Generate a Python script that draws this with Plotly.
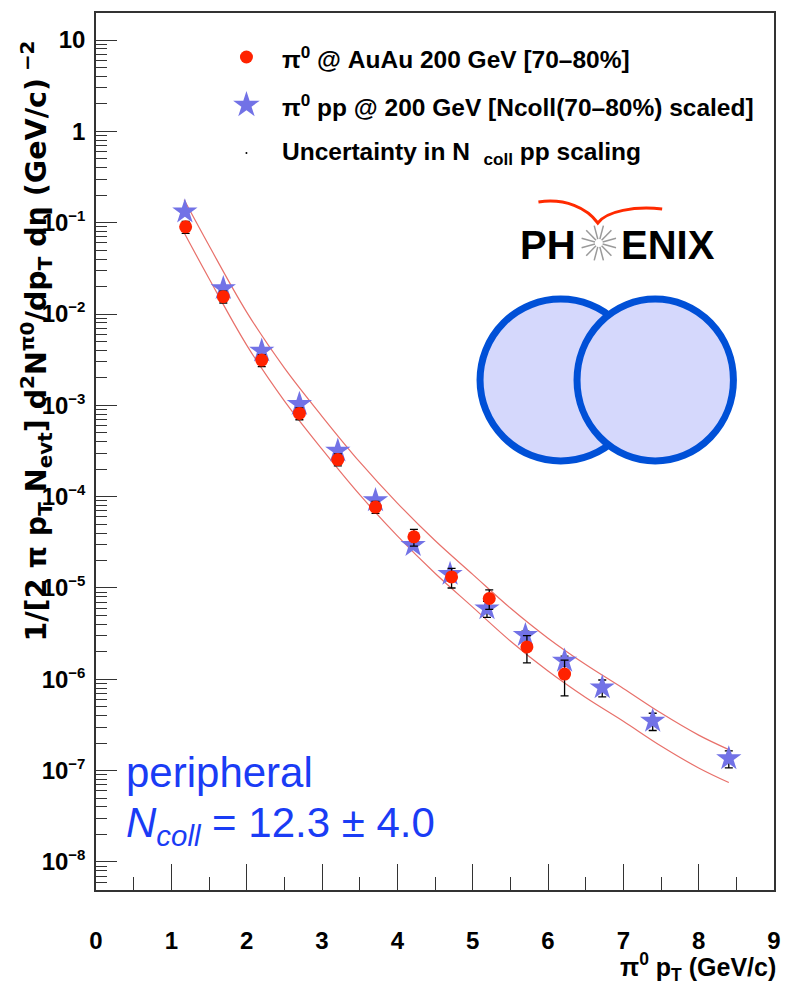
import math
import plotly.graph_objects as go

# ---------------- data ----------------
pt_auau = [1.19, 1.69, 2.20, 2.70, 3.21, 3.71, 4.22, 4.72, 5.22, 5.72, 6.22]
y_auau = [9.0e-2, 1.55e-2, 3.13e-3, 8.15e-4, 2.55e-4, 7.7e-5, 3.63e-5, 1.32e-5, 7.67e-6, 2.26e-6, 1.14e-6]
err_auau = [1.35e-2, 2.3e-3, 4.7e-4, 1.2e-4, 3.8e-5, 1.15e-5, 7.6e-6, 3.2e-6, 1.85e-6, 7.5e-7, 4.8e-7]

pt_pp = [1.18, 1.69, 2.20, 2.70, 3.21, 3.71, 4.21, 4.70, 5.19, 5.70, 6.22, 6.72, 7.39, 8.40]
y_pp = [1.32e-1, 1.91e-2, 3.95e-3, 1.03e-3, 3.18e-4, 9.1e-5, 2.94e-5, 1.42e-5, 5.96e-6,
        3.04e-6, 1.59e-6, 8.13e-7, 3.50e-7, 1.36e-7]
err_pp = [6.6e-3, 9.5e-4, 2.0e-4, 5.2e-5, 1.6e-5, 4.6e-6, 1.8e-6, 1.0e-6, 1.2e-6,
          3.3e-7, 2.0e-7, 1.7e-7, 7.5e-8, 2.9e-8]

pt_band = [1.17, 1.5, 2.0, 2.5, 3.0, 3.5, 4.0, 4.5, 5.0, 5.5, 6.0, 6.5, 7.0, 7.5, 8.0, 8.4]
band_upper = [0.178, 0.0562, 1.05e-2, 2.57e-3, 7.59e-4, 2.40e-4, 8.51e-5, 3.31e-5, 1.41e-5,
              6.03e-6, 2.82e-6, 1.45e-6, 7.94e-7, 4.27e-7, 2.45e-7, 1.70e-7]
band_lower = [0.0776, 0.0245, 4.57e-3, 1.12e-3, 3.31e-4, 1.05e-4, 3.72e-5, 1.45e-5, 6.17e-6,
              2.63e-6, 1.23e-6, 6.31e-7, 3.47e-7, 1.86e-7, 1.07e-7, 7.41e-8]

y_tickvals = [1e-8, 1e-7, 1e-6, 1e-5, 1e-4, 1e-3, 1e-2, 1e-1, 1, 10]
y_exponents = ["\u22128", "\u22127", "\u22126", "\u22125", "\u22124", "\u22123", "\u22122", "\u22121"]
y_ticktext = ["10<sup><span style='font-size:15px'>%s</span></sup>" % e for e in y_exponents] + ["1", "10"]

legend_labels = ["\u03c0<sup>0</sup> @ AuAu 200 GeV [70\u201380%]",
                 "\u03c0<sup>0</sup> pp @ 200 GeV [Ncoll(70\u201380%) scaled]",
                 "Uncertainty in N  <sub>coll</sub> pp scaling"]

RED = "#ff2200"
BLUE = "#7272e6"
BAND = "#e8706a"
AXC = "#333333"
FONT = "Liberation Sans, Arial, sans-serif"

# plot-area pixel geometry (for placing decorations)
PX0, PX1, PY0, PY1 = 96, 781, 13, 890


def px(x):
    return (x - PX0) / (PX1 - PX0)


def py(y):
    return (PY1 - y) / (PY1 - PY0)


fig = go.Figure()

for band in (band_upper, band_lower):
    fig.add_trace(go.Scatter(x=pt_band, y=band, mode="lines",
                             line=dict(color=BAND, width=1.2, shape="spline"),
                             showlegend=False, hoverinfo="skip"))

fig.add_trace(go.Scatter(x=pt_pp, y=y_pp, mode="markers",
                         marker=dict(symbol="star", size=19, color=BLUE),
                         error_y=dict(type="data", array=err_pp, color="black", thickness=1.3, width=4),
                         showlegend=False))
fig.add_trace(go.Scatter(x=pt_auau, y=y_auau, mode="markers",
                         marker=dict(symbol="circle", size=13, color=RED),
                         error_y=dict(type="data", array=err_auau, color="black", thickness=1.3, width=4),
                         showlegend=False))

# legend markers (pixel-like overlay axes)
leg_y = [57, 105, 153]
fig.add_trace(go.Scatter(x=[248], y=[leg_y[0]], xaxis="x2", yaxis="y2", mode="markers",
                         marker=dict(symbol="circle", size=13, color=RED), showlegend=False))
fig.add_trace(go.Scatter(x=[248], y=[leg_y[1]], xaxis="x2", yaxis="y2", mode="markers",
                         marker=dict(symbol="star", size=20, color=BLUE), showlegend=False))
fig.add_trace(go.Scatter(x=[248], y=[leg_y[2]], xaxis="x2", yaxis="y2", mode="markers",
                         marker=dict(symbol="circle", size=2, color="black"), showlegend=False))

ann = []
for lab, yy in zip(legend_labels, leg_y):
    ann.append(dict(x=282, y=yy, xref="x2", yref="y2", text=lab, showarrow=False,
                    xanchor="left", yanchor="middle",
                    font=dict(family=FONT, size=24.5, color="black", weight="bold")))

# axis titles (paper coordinates so they are never hidden)
ann.append(dict(x=px(785), y=py(967), xref="paper", yref="paper", showarrow=False,
                xanchor="right", yanchor="middle",
                text="\u03c0<sup>0</sup> p<sub>T</sub> (GeV/c)",
                font=dict(family=FONT, size=25, color="black", weight="bold")))
ann.append(dict(x=px(35), y=py(341), xref="paper", yref="paper", showarrow=False,
                xanchor="center", yanchor="middle", textangle=-90,
                text="1/[2 \u03c0 p<sub>T</sub> N<sub>evt</sub>] d<sup>2</sup>N<sup>\u03c00</sup>/dp<sub>T</sub> d\u03b7 (GeV/c)<sup> \u22122</sup>",
                font=dict(family="DejaVu Sans, Liberation Sans, sans-serif", size=28.5, color="black", weight="bold")))

# blue texts
TXTB = "#1a3cf5"
ann.append(dict(x=124, y=772, xref="x2", yref="y2", showarrow=False, xanchor="left", yanchor="middle",
                text="peripheral", font=dict(family=FONT, size=42, color=TXTB)))
ann.append(dict(x=124, y=825, xref="x2", yref="y2", showarrow=False, xanchor="left", yanchor="middle",
                text="<i>N</i><sub><i>coll</i></sub> = 12.3 \u00b1 4.0", font=dict(family=FONT, size=42, color=TXTB)))

# PHENIX logo text
ann.append(dict(x=583, y=245, xref="x2", yref="y2", showarrow=False, xanchor="right", yanchor="middle",
                text="PH", font=dict(family=FONT, size=40, color="black", weight="bold")))
ann.append(dict(x=624, y=245, xref="x2", yref="y2", showarrow=False, xanchor="left", yanchor="middle",
                text="ENIX", font=dict(family=FONT, size=40, color="black", weight="bold")))

shapes = []
# colliding nuclei
shapes.append(dict(type="circle", xref="x2", yref="y2", x0=484, x1=647, y0=299, y1=461,
                   line=dict(color="#0050d7", width=7), fillcolor="#d5d8fc", layer="above"))
shapes.append(dict(type="circle", xref="x2", yref="y2", x0=582, x1=740, y0=299, y1=461,
                   line=dict(color="#0050d7", width=7), fillcolor="#d5d8fc", layer="above"))
# starburst
cx, cy = 604, 243
for k in range(12):
    a = math.pi * k / 6 + math.pi / 12
    shapes.append(dict(type="line", xref="x2", yref="y2",
                       x0=cx + 4 * math.cos(a), y0=cy + 4 * math.sin(a),
                       x1=cx + 18 * math.cos(a), y1=cy + 18 * math.sin(a),
                       line=dict(color="#9a9a9a", width=1.5), layer="above"))
# red swoosh
shapes.append(dict(type="path", xref="x2", yref="y2",
                   path="M 543,202 C 570,198 592,208 603,223 C 612,211 640,206 668,209",
                   line=dict(color="#ff2a00", width=3), layer="above"))

fig.update_layout(
    width=787, height=984,
    margin=dict(l=96, r=6, t=13, b=94),
    paper_bgcolor="white", plot_bgcolor="white",
    showlegend=False,
    annotations=ann, shapes=shapes,
    xaxis=dict(range=[0, 9], showline=True, linecolor=AXC, linewidth=1.5, mirror=True,
               ticks="inside", ticklen=26, tickwidth=1.2, tickcolor=AXC,
               tick0=0, dtick=1, showgrid=False, zeroline=False,
               minor=dict(ticks="inside", ticklen=13, dtick=0.5, tickcolor=AXC, tickwidth=1.2, showgrid=False),
               tickfont=dict(family=FONT, size=24, color="black", weight="bold"),
               ticklabelstandoff=28),
    yaxis=dict(type="log", range=[-8.307, 1.296], showline=True, linecolor=AXC, linewidth=1.5, mirror=True,
               ticks="inside", ticklen=21, tickwidth=1.2, tickcolor=AXC,
               tickvals=y_tickvals, ticktext=y_ticktext, showgrid=False, zeroline=False,
               minor=dict(ticks="inside", ticklen=11, dtick="D1", tickcolor=AXC, tickwidth=1.2, showgrid=False),
               tickfont=dict(family=FONT, size=24, color="black", weight="bold"),
               ticklabelstandoff=4),
    xaxis2=dict(range=[PX0, PX1], overlaying="x", visible=False, anchor="y2"),
    yaxis2=dict(range=[PY1, PY0], overlaying="y", visible=False, anchor="x2"),
)

fig.write_html("out.html")
